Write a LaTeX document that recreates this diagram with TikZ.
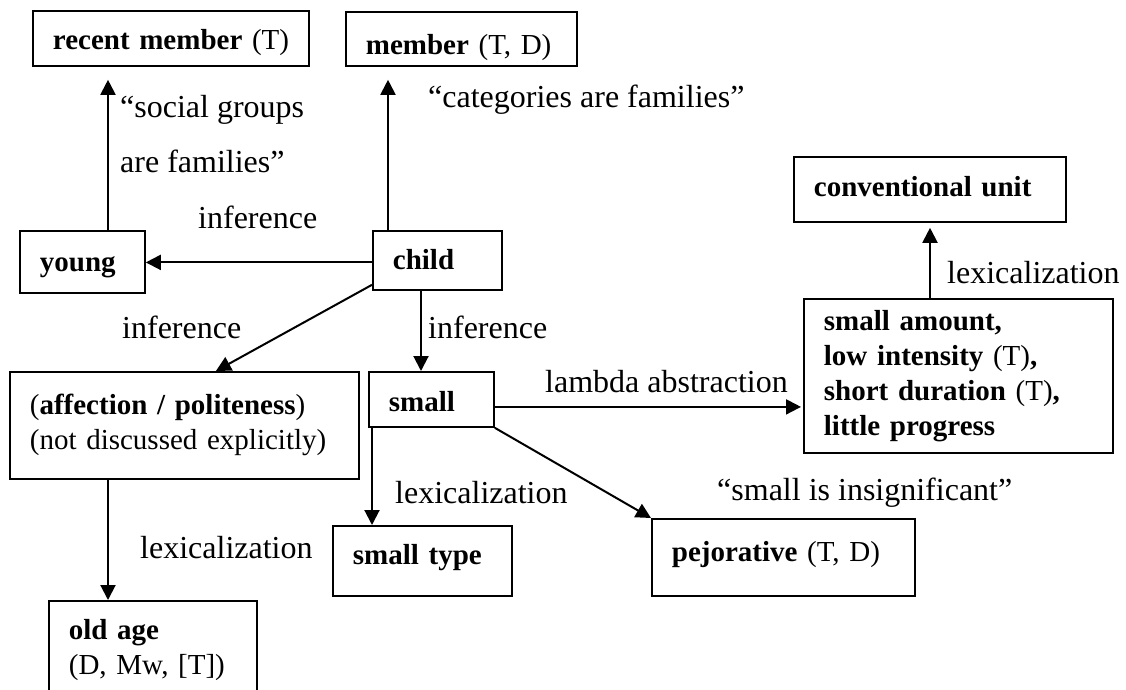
\documentclass[tikz,border=0pt]{standalone}
\usepackage{fontspec}
\setmainfont{Liberation Serif}
\usetikzlibrary{arrows.meta}

\begin{document}
\begin{tikzpicture}[
    x=1pt, y=-1pt,
    font=\fontsize{29}{35}\selectfont,
    box/.style={draw, line width=1.8pt, anchor=north west, inner xsep=20pt, inner ysep=0pt, align=left},
    single/.style={box, text height=#1, text depth=6pt},
    lbl/.style={anchor=west, inner sep=0pt, font=\fontsize{32}{38}\selectfont},
    arrow/.style={-{Triangle[length=15pt, width=15pt]}, line width=2pt}
]
\clip (0,0) rectangle (1126,689);

% Boxes
\node[single=29pt, text width=236pt, minimum height=55pt] (recent) at (32,10) {\mbox{\textbf{recent member} (T)}};
\node[single=38pt, text width=191pt, minimum height=54pt] (member) at (345,11) {\mbox{\textbf{member} (T, D)}};
\node[single=26pt, text width=85pt, minimum height=62pt] (young) at (19,230) {\textbf{young}};
\node[single=25pt, text width=89pt, minimum height=59pt] (child) at (372,230) {\textbf{child}};
\node[single=21pt, text width=232pt, minimum height=65pt] (conv) at (793,156) {\mbox{\textbf{conventional unit}}};
\node[box, text width=269pt, minimum height=154pt] (amount) at (803,298)
    {\textbf{small amount,}\\ \textbf{low intensity} (T)\textbf{,}\\ \textbf{short duration} (T)\textbf{,}\\ \textbf{little progress}};
\node[box, text width=309pt, minimum height=107pt] (affect) at (9,371)
    {(\textbf{affection / politeness})\\ (not discussed explicitly)};
\node[single=31pt, text width=85pt, minimum height=55pt] (small) at (368,371) {\textbf{small}};
\node[single=14pt, text width=139pt, minimum height=70pt] (smalltype) at (332,525) {\mbox{\textbf{small type}}};
\node[single=15pt, text width=223pt, minimum height=77pt] (pejor) at (651,518) {\mbox{\textbf{pejorative} (T, D)}};
\node[box, text width=168pt, minimum height=98pt] (oldage) at (48,600) {\textbf{old age}\\ (D, Mw, [T])};

% Labels
\node[lbl, align=left] (lsocial) at (120,134.5) {“social groups\\[17pt]are families”};
\node[lbl] (linfyoung) at (198,217) {inference};
\node[lbl] (lcateg) at (428,100) {“categories are families”};
\node[lbl] (linfaffect) at (122,327) {inference};
\node[lbl] (linfsmall) at (428,327) {inference};
\node[lbl] (llambda) at (545,382) {lambda abstraction};
\node[lbl] (llexconv) at (947,273) {lexicalization};
\node[lbl] (llextype) at (395,493) {lexicalization};
\node[lbl] (linsig) at (717,493) {“small is insignificant”};
\node[lbl] (llexold) at (140,548) {lexicalization};

% Arrows
\draw[arrow, shorten >=13pt] ([xshift=89pt]young.north west) -- ([xshift=89pt]young.north west |- recent.south);
\draw[arrow, shorten >=13pt] ([xshift=16pt]child.north west) -- ([xshift=16pt]child.north west |- member.south);
\draw[arrow] ([yshift=-2pt]child.west) -- ([yshift=-2pt]child.west -| young.east);
\draw[arrow] ([yshift=6pt]child.south west) -- ([xshift=31.5pt]affect.north);
\draw[arrow] ([xshift=49pt]child.south west) -- ([xshift=49pt]child.south west |- small.north);
\draw[arrow] ([xshift=4pt]small.south west) -- ([xshift=4pt]small.south west |- smalltype.north);
\draw[arrow, shorten >=2pt] ([yshift=-7.5pt]small.east) -- ([yshift=-7.5pt]small.east -| amount.west);
\draw[arrow] (small.south east) -- (pejor.north west);
\draw[arrow] ([xshift=99pt]affect.south west) -- ([xshift=99pt]affect.south west |- oldage.north);
\draw[arrow, shorten >=5pt] ([xshift=127pt]amount.north west) -- ([xshift=127pt]amount.north west |- conv.south);

\end{tikzpicture}
\end{document}
